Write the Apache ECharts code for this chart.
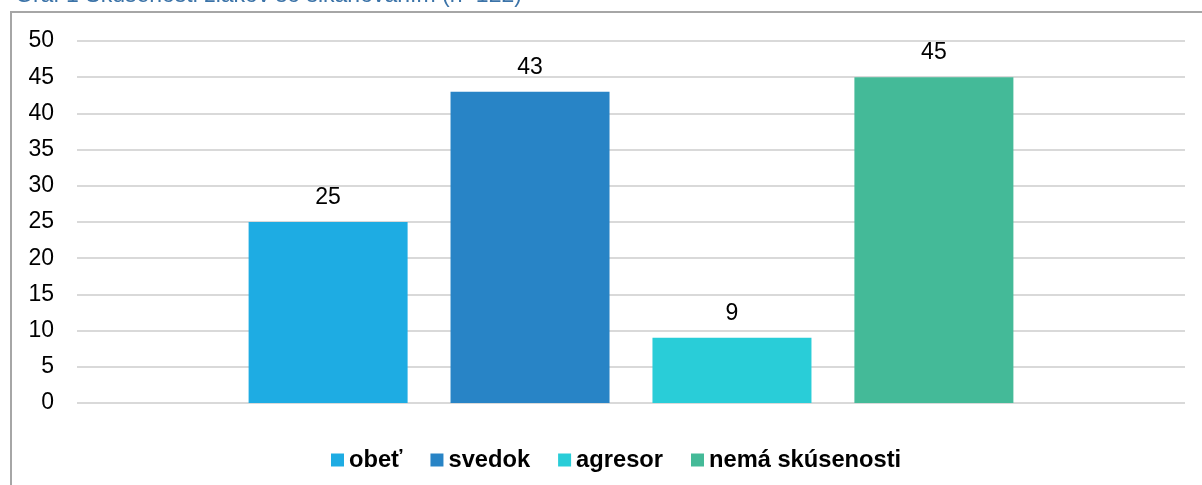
<!DOCTYPE html>
<html>
<head>
<meta charset="utf-8">
<script src="https://cdn.jsdelivr.net/npm/echarts@6/dist/echarts.min.js"></script>
<style>
html,body{margin:0;padding:0;background:#fff;}
#chart{width:1202px;height:485px;}
</style>
</head>
<body>
<div id="chart"></div>
<script>
const categories = [''];
const seriesNames = ['obeť', 'svedok', 'agresor', 'nemá skúsenosti'];
const seriesValues = [25, 43, 9, 45];
const seriesColors = ['#1eace3', '#2884c6', '#29cdd8', '#44ba98'];
const yTicks = { min: 0, max: 50, interval: 5 };
const titleText = 'Graf 1 Skúsenosti žiakov so šikanovaním (n=122)';

const chart = echarts.init(document.getElementById('chart'), null, { renderer: 'canvas' });
const font = '"Liberation Sans", Arial, sans-serif';

const option = {
  animation: false,
  backgroundColor: '#ffffff',
  title: {
    text: titleText,
    left: 10,
    top: -21,
    textStyle: { color: '#3b73a8', fontSize: 23, fontWeight: 'normal', fontFamily: font }
  },
  graphic: [{
    type: 'rect',
    shape: { x: 11, y: 12, width: 1400, height: 700 },
    style: { fill: 'none', stroke: '#a6a6a6', lineWidth: 2 },
    silent: true,
    z: -1
  }],
  legend: {
    data: seriesNames,
    top: 443,
    left: 326,
    icon: 'rect',
    itemWidth: 13,
    itemHeight: 13,
    itemGap: 28,
    textStyle: { color: '#000', fontSize: 23.7, fontWeight: 'bold', fontFamily: font }
  },
  grid: { left: 77, right: 17, top: 41, bottom: 82, containLabel: false },
  xAxis: {
    type: 'category',
    data: categories,
    axisLine: { show: false },
    axisTick: { show: false },
    axisLabel: { show: false }
  },
  yAxis: {
    type: 'value',
    min: yTicks.min,
    max: yTicks.max,
    interval: yTicks.interval,
    axisLine: { show: false },
    axisTick: { show: false },
    axisLabel: { color: '#000', fontSize: 23, fontFamily: font, margin: 23 },
    splitLine: { lineStyle: { color: '#d9d9d9', width: 2 } }
  },
  series: seriesNames.map((name, i) => ({
    name: name,
    type: 'bar',
    data: [seriesValues[i]],
    barWidth: 159,
    barGap: '27%',
    itemStyle: { color: seriesColors[i] },
    label: {
      show: true,
      position: 'top',
      distance: 13,
      color: '#000',
      fontSize: 23,
      fontFamily: font
    }
  }))
};
chart.setOption(option);
</script>
</body>
</html>
